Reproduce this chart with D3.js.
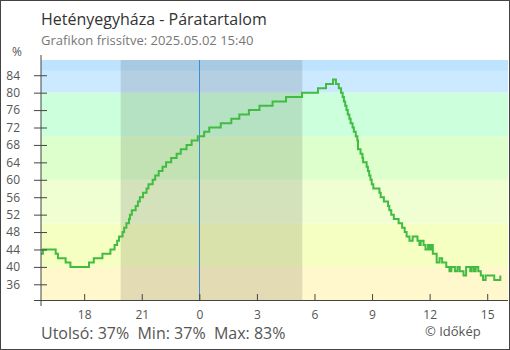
<!DOCTYPE html>
<html><head><meta charset="utf-8">
<script src="https://cdn.jsdelivr.net/npm/d3@7"></script>
<style>body{margin:0;background:#fff}svg{display:block;font-family:"Open Sans",sans-serif}</style>
</head><body><svg id="c" width="510" height="350"></svg>
<script>
const titleText = "Hetényegyháza - Páratartalom";
const subtitleText = "Grafikon frissítve: 2025.05.02 15:40";
const statsText = "Utolsó: 37%  Min: 37%  Max: 83%";
const creditText = "© Időkép";
const unitText = "%";

const times = ["15:45","15:51","16:31","16:38","17:02","17:17","18:15","18:30","18:57","19:22","19:35","19:43","19:49","20:00","20:05","20:12","20:20","20:23","20:29","20:41","20:48","20:54","21:04","21:15","21:21","21:34","21:42","21:53","22:05","22:16","22:32","22:49","23:02","23:20","23:36","23:55","00:15","00:31","01:07","01:40","02:05","02:35","03:08","03:49","04:31","05:21","06:11","06:36","06:58","07:07","07:16","07:23","07:28","07:32","07:36","07:40","07:44","07:49","07:53","07:59","08:03","08:09","08:14","08:16","08:24","08:30","08:32","08:43","08:47","08:51","08:55","08:59","09:04","09:23","09:27","09:37","09:50","09:54","10:00","10:08","10:23","10:34","10:42","10:48","10:57","11:07","11:22","11:28","11:32","11:41","11:47","11:55","11:59","12:04","12:10","12:22","12:31","12:39","12:52","13:02","13:08","13:19","13:27","13:34","13:46","13:54","14:07","14:11","14:18","14:24","14:32","14:40","14:47","14:55","15:22","15:41"];
const values = [43,44,43,42,41,40,41,42,43,44,45,46,47,48,49,50,51,52,53,54,55,56,57,58,59,60,61,62,63,64,65,66,67,68,69,70,71,72,73,74,75,76,77,78,79,80,81,82,83,82,81,80,79,78,77,76,75,74,73,72,71,70,69,67,66,65,64,63,62,61,60,59,58,57,56,55,54,53,52,51,50,49,48,47,46,47,46,45,46,45,44,45,44,45,43,41,42,41,40,39,40,39,40,39,38,40,39,40,39,40,39,38,37,38,37,38];

const yTicks = [36,40,44,48,52,56,60,64,68,72,76,80,84];
const xTickHours = [18,21,0,3,6,9,12,15];
const bandBreaks = [40,50,60,70,80,85];
const bandColors = ["#fff8cc","#f6ffc2","#efffd2","#ddffcc","#ccffdc","#cceaff","#bde3ff"];
const nightStart = "19:54", nightEnd = "05:22";
const domainStart = "15:45", domainEnd = "16:05";
const yDomain = [32.4, 87.5];

const svg = d3.select("#c");
function at(hm, dayOff){const [h,m]=hm.split(":").map(Number);return new Date(2025,4,1+dayOff,h,m);}
let off=0, prev=-1;
const data = times.map((t,i)=>{const [h,m]=t.split(":").map(Number);const mm=h*60+m;if(mm<prev)off=1;prev=mm;return {t:at(t,off), v:values[i]};});

const L=41,R=508,T=60,B=300;
const x = d3.scaleTime().domain([at(domainStart,0),at(domainEnd,1)]).range([L,R]);
const y = d3.scaleLinear().domain(yDomain).range([B,T]);

// frame
svg.append("rect").attr("x",0.5).attr("y",0.5).attr("width",509).attr("height",349).attr("fill","#fff").attr("stroke","#444");

// bands
const edges=[yDomain[0],...bandBreaks,yDomain[1]];
svg.append("g").selectAll("rect").data(bandColors).join("rect")
 .attr("x",L).attr("width",R-L)
 .attr("y",(d,i)=>y(edges[i+1])).attr("height",(d,i)=>y(edges[i])-y(edges[i+1]))
 .attr("fill",d=>d);

// night
svg.append("rect").attr("x",x(at(nightStart,0))).attr("width",x(at(nightEnd,1))-x(at(nightStart,0)))
 .attr("y",T).attr("height",B-T).attr("fill","rgba(0,0,0,0.115)");

// midnight
svg.append("line").attr("x1",Math.round(x(at("00:00",1)))+0.5).attr("x2",Math.round(x(at("00:00",1)))+0.5)
 .attr("y1",T).attr("y2",B).attr("stroke","#3a8fd6").attr("stroke-width",1);

// line
svg.append("path").datum(data)
 .attr("d",d3.line().x(d=>x(d.t)).y(d=>y(d.v)).curve(d3.curveStepAfter))
 .attr("fill","none").attr("stroke","#42bb42").attr("stroke-width",2);

// y axis
const ya = svg.append("g").attr("transform",`translate(${L},0)`)
 .call(d3.axisLeft(y).tickValues(yTicks).tickSize(7).tickPadding(14));
ya.select(".domain").remove();
ya.selectAll(".tick line").attr("x1",6).attr("stroke","#444");
ya.selectAll(".tick text").attr("font-size",12).attr("fill","#555").attr("font-family","Open Sans");
svg.append("line").attr("x1",L).attr("x2",L).attr("y1",55).attr("y2",306).attr("stroke","#444");

// x axis
const xTickDates = xTickHours.map(h=>h>=16?at(h+":00",0):at(h+":00",1));
const xa = svg.append("g").attr("transform",`translate(0,${B})`)
 .call(d3.axisBottom(x).tickValues(xTickDates).tickFormat(d3.timeFormat("%-H")).tickSize(-6).tickPadding(10));
xa.select(".domain").remove();
xa.selectAll(".tick line").attr("stroke","#444");
xa.selectAll(".tick text").attr("font-size",12).attr("fill","#555").attr("font-family","Open Sans");
svg.append("line").attr("x1",34).attr("x2",R).attr("y1",B+0.5).attr("y2",B+0.5).attr("stroke","#444");

// texts
svg.append("text").attr("x",41).attr("y",25).attr("font-size",16).attr("fill","#333").text(titleText);
svg.append("text").attr("x",41).attr("y",45).attr("font-size",13).attr("fill","#777").text(subtitleText);
svg.append("text").attr("x",17).attr("y",56).attr("text-anchor","middle").attr("font-size",12).attr("fill","#555").text(unitText);
svg.append("text").attr("x",41).attr("y",339).attr("font-size",16).attr("fill","#555").attr("xml:space","preserve").style("white-space","pre").text(statsText);
svg.append("text").attr("x",425).attr("y",336).attr("font-size",13).attr("fill","#555").text(creditText);
</script></body></html>
